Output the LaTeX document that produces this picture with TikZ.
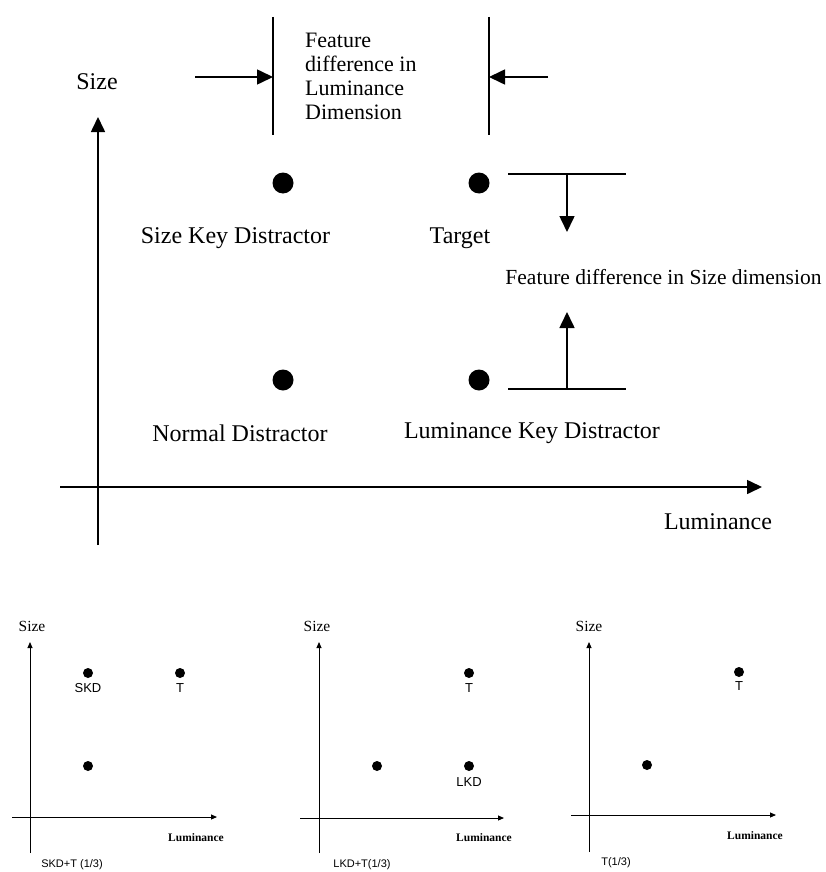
\documentclass[tikz,border=0pt]{standalone}
\usepackage{fontspec}
\setmainfont{Liberation Serif}
\newfontfamily\arialfont{Liberation Sans}
\usetikzlibrary{arrows.meta,positioning}
\tikzset{
  dot/.style={circle, fill=black, inner sep=0pt, minimum size=21pt},
  smalldot/.style={circle, fill=black, inner sep=0pt, minimum size=10pt},
  biglabel/.style={font=\fontsize{24}{28}\selectfont, inner sep=0pt},
  featuretext/.style={font=\fontsize{22}{24}\selectfont, align=left, inner sep=0pt},
  axis/.style={line width=1.6pt, -{Triangle[length=15pt, width=14pt]}},
  bigarrow/.style={line width=1.6pt, -{Triangle[length=16pt, width=15pt]}},
  guide/.style={line width=1.8pt},
  smallaxis/.style={line width=0.9pt, -{Triangle[length=6pt, width=5pt]}},
  paneltext/.style={font=\fontsize{15.5}{18}\selectfont, inner sep=0pt},
  lumtext/.style={font=\bfseries\fontsize{11.5}{13}\selectfont, inner sep=0pt},
  tag/.style={font=\arialfont\fontsize{13}{15}\selectfont, inner sep=0pt},
  caption/.style={font=\arialfont\fontsize{11}{13}\selectfont, inner sep=0pt},
}

\begin{document}
\begin{tikzpicture}[x=1pt, y=-1pt]
  \useasboundingbox (0,0) rectangle (825,872);

  % main plot: axes
  \coordinate (ybot) at (98,545);
  \coordinate (ytop) at (98,117);
  \coordinate (xleft) at (60,487);
  \coordinate (xright) at (762,487);
  \draw[axis] (ybot) -- (ytop);
  \draw[axis] (xleft) -- (xright);
  \node[biglabel] (sizelab) at (97,82) {Size};
  \node[biglabel] (lumlab) at (718,522) {Luminance};

  % stimuli
  \node[dot] (skd) at (283,183) {};
  \node[dot] (tgt) at (479,183) {};
  \node[dot] (nd) at (283,380) {};
  \node[dot] (lkd) at (479,380) {};
  \node[biglabel] (skdlab) at (235.5,238) {Size Key Distractor};
  \node[biglabel] (tgtlab) at (460,238) {Target};
  \node[biglabel] (ndlab) at (240,433) {Normal Distractor};
  \node[biglabel] (lkdlab) at (532,433) {Luminance Key Distractor};

  % luminance difference
  \coordinate (lumLtop) at (273,17);
  \coordinate (lumLbot) at (273,135);
  \coordinate (lumRtop) at (489,17);
  \coordinate (lumRbot) at (489,135);
  \draw[guide] (lumLtop) -- (lumLbot);
  \draw[guide] (lumRtop) -- (lumRbot);
  \coordinate (lumLin) at (195,77);
  \coordinate (lumLhit) at (273,77);
  \coordinate (lumRin) at (548,77);
  \coordinate (lumRhit) at (489,77);
  \draw[bigarrow] (lumLin) -- (lumLhit);
  \draw[bigarrow] (lumRin) -- (lumRhit);
  \node[featuretext, anchor=west] (lumdiff) at (305,76)
    {Feature\\ difference in\\ Luminance\\ Dimension};

  % size difference
  \coordinate (sizeTa) at (508,174);
  \coordinate (sizeTb) at (626,174);
  \coordinate (sizeBa) at (508,389);
  \coordinate (sizeBb) at (626,389);
  \draw[guide] (sizeTa) -- (sizeTb);
  \draw[guide] (sizeBa) -- (sizeBb);
  \coordinate (sizeTin) at (567,174);
  \coordinate (sizeTtip) at (567,232);
  \coordinate (sizeBin) at (567,389);
  \coordinate (sizeBtip) at (567,312);
  \draw[bigarrow] (sizeTin) -- (sizeTtip);
  \draw[bigarrow] (sizeBin) -- (sizeBtip);
  \node[font=\fontsize{21.5}{24}\selectfont, inner sep=0pt] (sizediff) at (663.5,277)
    {Feature difference in Size dimension};

  % panel 1: SKD+T
  \coordinate (ay1) at (30,853);
  \coordinate (by1) at (30,642);
  \coordinate (ax1) at (12,817);
  \coordinate (bx1) at (217,817);
  \draw[smallaxis] (ay1) -- (by1);
  \draw[smallaxis] (ax1) -- (bx1);
  \node[paneltext] (size1) at (32,626) {Size};
  \node[lumtext] (lum1) at (196,838) {Luminance};
  \node[smalldot] (skd1) at (88,673) {};
  \node[smalldot] (t1) at (180,673) {};
  \node[smalldot] (nd1) at (88,766) {};
  \node[tag, below=5pt of skd1] (skdtag1) {SKD};
  \node[tag, below=5pt of t1] (ttag1) {T};
  \node[caption] (cap1) at (72,865) {SKD+T (1/3)};

  % panel 2: LKD+T
  \coordinate (ay2) at (319,853);
  \coordinate (by2) at (319,642);
  \coordinate (ax2) at (300,818);
  \coordinate (bx2) at (504,818);
  \draw[smallaxis] (ay2) -- (by2);
  \draw[smallaxis] (ax2) -- (bx2);
  \node[paneltext] (size2) at (317,626) {Size};
  \node[lumtext] (lum2) at (484,838) {Luminance};
  \node[smalldot] (nd2) at (377,766) {};
  \node[smalldot] (t2) at (469,673) {};
  \node[smalldot] (lkd2) at (469,766) {};
  \node[tag, below=5pt of t2] (ttag2) {T};
  \node[tag, below=16pt of lkd2.center, anchor=center] (lkdtag2) {LKD};
  \node[caption] (cap2) at (362,865) {LKD+T(1/3)};

  % panel 3: T
  \coordinate (ay3) at (589,852);
  \coordinate (by3) at (589,642);
  \coordinate (ax3) at (571,815);
  \coordinate (bx3) at (776,815);
  \draw[smallaxis] (ay3) -- (by3);
  \draw[smallaxis] (ax3) -- (bx3);
  \node[paneltext] (size3) at (589,626) {Size};
  \node[lumtext] (lum3) at (755,836) {Luminance};
  \node[smalldot] (nd3) at (647,765) {};
  \node[smalldot] (t3) at (739,672) {};
  \node[tag, below=4pt of t3] (ttag3) {T};
  \node[caption] (cap3) at (616,863) {T(1/3)};
\end{tikzpicture}
\end{document}
